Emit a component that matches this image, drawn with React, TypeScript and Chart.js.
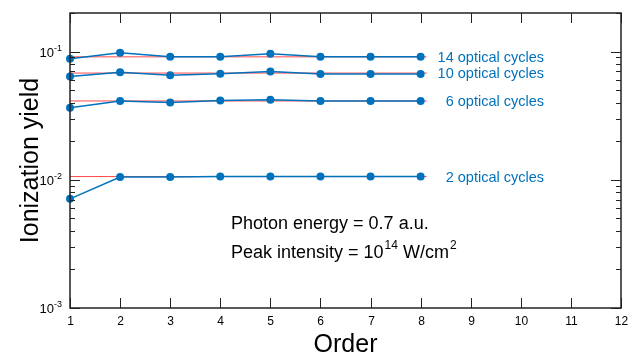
import React, { useEffect, useRef } from "react";
import { Chart, registerables } from "chart.js";

Chart.register(...registerables);

const orders = [1, 2, 3, 4, 5, 6, 7, 8];
const cycles14 = [0.088, 0.098, 0.091, 0.091, 0.096, 0.091, 0.091, 0.091];
const cycles10 = [0.064, 0.069, 0.0653, 0.0673, 0.070, 0.067, 0.067, 0.067];
const cycles6 = [0.0365, 0.0412, 0.040, 0.0416, 0.0422, 0.0412, 0.0412, 0.0412];
const cycles2 = [0.0071, 0.0105, 0.0105, 0.0106, 0.0106, 0.0106, 0.0106, 0.0106];
const refLevels = [0.091, 0.068, 0.0412, 0.0106];
const refRange = [1, 8.12];
const seriesLabels = ["14 optical cycles", "10 optical cycles", "6 optical cycles", "2 optical cycles"];
const xTicks = [1, 2, 3, 4, 5, 6, 7, 8, 9, 10, 11, 12];
const yDecades = [-3, -2, -1];

const BLUE = "#0072bd";
const RED = "rgba(255,40,40,0.85)";
const FONT = "'Liberation Sans', Arial, Helvetica, sans-serif";

const decor = {
  id: "decor",
  afterDraw(chart: any) {
    const ctx = chart.ctx;
    const { left, right, top, bottom } = chart.chartArea;
    const xs = chart.scales.x;
    const ys = chart.scales.y;
    ctx.save();
    // frame
    ctx.strokeStyle = "#222";
    ctx.lineWidth = 1.5;
    ctx.strokeRect(left, top, right - left, bottom - top);
    // x ticks
    ctx.lineWidth = 1;
    ctx.fillStyle = "#000";
    ctx.font = `12px ${FONT}`;
    ctx.textAlign = "center";
    ctx.textBaseline = "top";
    xTicks.forEach((t) => {
      const px = Math.round(xs.getPixelForValue(t)) + 0.5;
      ctx.beginPath();
      ctx.moveTo(px, bottom);
      ctx.lineTo(px, bottom - 10);
      ctx.moveTo(px, top);
      ctx.lineTo(px, top + 10);
      ctx.stroke();
      ctx.fillText(String(t), px, bottom + 8);
    });
    // y ticks
    const yMax = ys.max;
    yDecades.forEach((d) => {
      for (let m = 1; m <= 9; m++) {
        const v = m * Math.pow(10, d);
        if (v > yMax * 1.0001) break;
        const py = Math.round(ys.getPixelForValue(v)) + 0.5;
        const len = m === 1 ? 10 : 5;
        ctx.beginPath();
        ctx.moveTo(left, py);
        ctx.lineTo(left + len, py);
        ctx.moveTo(right, py);
        ctx.lineTo(right - len, py);
        ctx.stroke();
      }
      const py = ys.getPixelForValue(Math.pow(10, d));
      const sup = String(d);
      ctx.font = `9px ${FONT}`;
      const sw = ctx.measureText(sup).width;
      ctx.textAlign = "right";
      ctx.textBaseline = "alphabetic";
      const rx = left - 8;
      ctx.fillText(sup, rx, py - 1);
      ctx.font = `13px ${FONT}`;
      ctx.fillText("10", rx - sw, py + 5);
    });
    // axis titles
    ctx.font = `25px ${FONT}`;
    ctx.textAlign = "center";
    ctx.textBaseline = "alphabetic";
    ctx.fillText("Order", (left + right) / 2, 352);
    ctx.save();
    ctx.translate(38, (top + bottom) / 2);
    ctx.rotate(-Math.PI / 2);
    ctx.fillText("Ionization yield", 0, 0);
    ctx.restore();
    // series labels
    ctx.fillStyle = BLUE;
    ctx.font = `14.5px ${FONT}`;
    ctx.textAlign = "right";
    ctx.textBaseline = "middle";
    seriesLabels.forEach((lab, i) => {
      const py = ys.getPixelForValue(refLevels[i]) + 1;
      ctx.fillText(lab, 544, py);
    });
    // annotation
    ctx.fillStyle = "#000";
    ctx.textAlign = "left";
    ctx.textBaseline = "alphabetic";
    ctx.font = `18px ${FONT}`;
    const ax = 231;
    ctx.fillText("Photon energy = 0.7 a.u.", ax, 229);
    const s1 = "Peak intensity = 10";
    ctx.fillText(s1, ax, 258);
    const w = ctx.measureText(s1).width;
    ctx.font = `12px ${FONT}`;
    ctx.fillText("14", ax + w + 1, 249);
    const w2 = ctx.measureText("14").width;
    ctx.font = `18px ${FONT}`;
    const s2 = " W/cm";
    ctx.fillText(s2, ax + w + w2 + 1, 258);
    const w3 = ctx.measureText(s2).width;
    ctx.font = `12px ${FONT}`;
    ctx.fillText("2", ax + w + w2 + w3 + 2, 249);
    ctx.restore();
  },
};

export default function App() {
  const ref = useRef<HTMLCanvasElement>(null);
  useEffect(() => {
    document.body.style.margin = "0";
    const blueSets = [cycles14, cycles10, cycles6, cycles2].map((arr) => ({
      data: orders.map((o, i) => ({ x: o, y: arr[i] })),
      borderColor: BLUE,
      backgroundColor: BLUE,
      borderWidth: 1.5,
      pointRadius: 4,
      pointHoverRadius: 4,
      pointBorderWidth: 0,
      clip: false,
      order: 1,
    }));
    const redSets = refLevels.map((lv) => ({
      data: refRange.map((x) => ({ x, y: lv })),
      borderColor: RED,
      borderWidth: 1,
      pointRadius: 0,
      clip: false,
      order: 2,
    }));
    const chart = new Chart(ref.current!, {
      type: "line",
      data: { datasets: [...redSets, ...blueSets] as any },
      options: {
        animation: false,
        responsive: false,
        maintainAspectRatio: false,
        layout: { padding: { top: 13, right: 12, left: 0, bottom: 0 } },
        plugins: { legend: { display: false }, tooltip: { enabled: false } },
        scales: {
          x: {
            type: "linear",
            min: 1,
            max: 12,
            grid: { display: false },
            border: { display: false },
            ticks: { display: false },
            afterFit: (s: any) => {
              s.height = 46;
            },
          },
          y: {
            type: "logarithmic",
            min: 0.001,
            max: 0.2,
            grid: { display: false },
            border: { display: false },
            ticks: { display: false },
            afterFit: (s: any) => {
              s.width = 70;
            },
          },
        },
      },
      plugins: [decor],
    });
    return () => chart.destroy();
  }, []);
  return (
    <div style={{ position: "absolute", left: 0, top: 0, width: 633, height: 354, background: "#fff" }}>
      <canvas ref={ref} width={633} height={354} />
    </div>
  );
}
